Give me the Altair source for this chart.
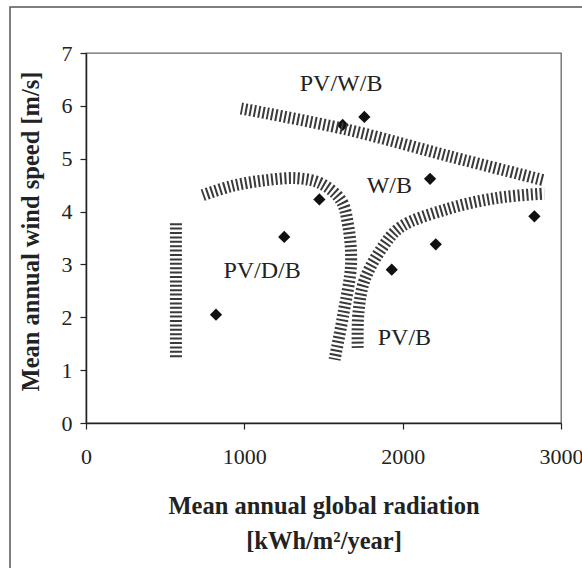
import altair as alt
import pandas as pd

# ---- data ----
pt_x = [821, 1252, 1474, 1621, 1758, 2173, 2209, 1931, 2832]
pt_y = [2.05, 3.52, 4.23, 5.64, 5.79, 4.62, 3.38, 2.90, 3.91]

band_a_x = [979, 1650, 2290, 2895]
band_a_y = [5.95, 5.55, 5.05, 4.59]
band_b_x = [737, 916, 1126, 1337, 1484, 1611, 1655, 1674, 1626, 1570]
band_b_y = [4.31, 4.48, 4.59, 4.63, 4.53, 4.21, 3.75, 3.01, 2.07, 1.20]
band_c_x = [1716, 1720, 1758, 1874, 1989, 2284, 2600, 2895]
band_c_y = [1.42, 2.06, 2.69, 3.33, 3.71, 4.05, 4.26, 4.34]
band_d_x = [568, 568]
band_d_y = [3.78, 1.20]

label_text = ["PV/W/B", "W/B", "PV/D/B", "PV/B"]
label_x = [1611, 1916, 1112, 2011]
label_y = [6.42, 4.48, 2.87, 1.61]

x_ticks = [0, 1000, 2000, 3000]
y_ticks = [0, 1, 2, 3, 4, 5, 6, 7]

# ---- tables ----
points = pd.DataFrame({"x": pt_x, "y": pt_y})
rows = []
for name, xs, ys in [("A", band_a_x, band_a_y), ("B", band_b_x, band_b_y),
                     ("C", band_c_x, band_c_y), ("D", band_d_x, band_d_y)]:
    for i, (a, b) in enumerate(zip(xs, ys)):
        rows.append({"band": name, "i": i, "x": a, "y": b})
bands = pd.DataFrame(rows)
labels = pd.DataFrame({"t": label_text, "x": label_x, "y": label_y})

FONT = "Liberation Serif"
W, H = 475, 370

X = alt.X("x:Q", scale=alt.Scale(domain=[0, 3000], nice=False, zero=False),
          axis=alt.Axis(values=x_ticks, grid=False, format="d",
                        title=["Mean annual global radiation", "[kWh/m²/year]"],
                        labelFlush=False, labelPadding=17, tickSize=6,
                        titleBaseline="alphabetic", titleY=90, titleLineHeight=35,
                        titleAlign="center"))
Y = alt.Y("y:Q", scale=alt.Scale(domain=[0, 7], nice=False, zero=False),
          axis=alt.Axis(values=y_ticks, grid=False, format="d",
                        title="Mean annual wind speed [m/s]",
                        labelPadding=8, tickSize=6, labelFlush=False,
                        titleAngle=270, titleX=-55, titleY=178,
                        titleBaseline="middle", titleAlign="center"))

frame = alt.Chart(pd.DataFrame({"k": [0]})).mark_rect(
    fillOpacity=0, stroke="#555", strokeWidth=1.5
).encode(x=alt.value(-76), x2=alt.value(620), y=alt.value(-46), y2=alt.value(620))

pts = alt.Chart(points).mark_point(
    shape="diamond", filled=True, size=150, color="#111", opacity=1
).encode(x=X, y=Y)

lines = alt.Chart(bands).mark_line(
    strokeWidth=12, strokeDash=[2, 2.4], strokeCap="butt",
    color="#3a3a3a", interpolate="catmull-rom"
).encode(x=X, y=Y, detail="band:N", order="i:Q")

txt = alt.Chart(labels).mark_text(
    font=FONT, fontSize=24, color="#222", align="center", baseline="middle"
).encode(x=X, y=Y, text="t:N")

chart = alt.layer(frame, pts, lines, txt).properties(
    width=W, height=H,
    autosize=alt.AutoSizeParams(type="none"),
    padding={"left": 86, "top": 53, "right": 582 - 86 - W, "bottom": 568 - 53 - H},
    background="white",
).configure_view(
    stroke="#666", strokeWidth=1.3
).configure_axis(
    domainColor="#222", tickColor="#222", domainWidth=1.5, tickWidth=1.2,
    labelFont=FONT, labelFontSize=22, labelColor="#222",
    titleFont=FONT, titleFontSize=24.5, titleFontWeight="bold", titleColor="#222"
)

chart.save("out.html", embed_options={"renderer": "svg", "actions": False})
